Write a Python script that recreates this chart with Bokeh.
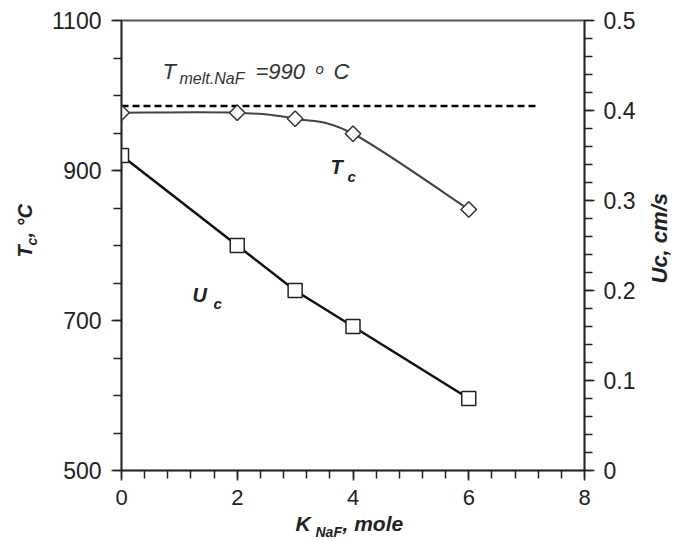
import math
from bokeh.plotting import figure
from bokeh.models import Range1d, LinearAxis, FixedTicker, Label, CustomJSTickFormatter
from bokeh.embed import file_html
from bokeh.resources import INLINE

# ---- data ----
k_naf = [0, 2, 3, 4, 6]
t_c = [977, 977, 969, 949, 848]          # Tc, degC (left axis)
u_c = [0.35, 0.25, 0.20, 0.16, 0.08]     # Uc, cm/s (right axis)
melt_k = [0, 7.2]
melt_t = [986, 986]

x_ticks = [0, 2, 4, 6, 8]
t_ticks = [500, 700, 900, 1100]
u_ticks = [0, 0.1, 0.2, 0.3, 0.4, 0.5]

FW, FH = 463, 450
BL, BT = 121, 20
p = figure(frame_width=FW, frame_height=FH,
           x_range=Range1d(0, 8), y_range=Range1d(500, 1100),
           output_backend="svg", toolbar_location=None,
           min_border_left=BL, min_border_right=88,
           min_border_top=BT, min_border_bottom=70)
p.extra_y_ranges = {"u": Range1d(0, 0.5)}
p.grid.visible = False
p.outline_line_color = "#555555"
p.outline_line_width = 2
p.background_fill_color = "white"
p.border_fill_color = "white"

FONT = "Liberation Sans"


def style_axis(ax):
    ax.axis_line_color = "#222222"
    ax.axis_line_width = 1.5
    ax.major_tick_line_color = "#222222"
    ax.major_tick_line_width = 1.5
    ax.minor_tick_line_color = "#222222"
    ax.minor_tick_line_width = 1.5
    ax.major_tick_in = 0
    ax.minor_tick_in = 0
    ax.major_tick_out = 10
    ax.minor_tick_out = 8
    ax.major_label_text_font = FONT
    ax.major_label_text_font_size = "23px"
    ax.major_label_text_color = "#222222"


xa = p.xaxis[0]
xa.ticker = FixedTicker(ticks=x_ticks, minor_ticks=[0.4 * i for i in range(21)])
style_axis(xa)
xa.major_label_text_font_size = "22px"
xa.major_label_standoff = 9

ya = p.yaxis[0]
ya.ticker = FixedTicker(ticks=t_ticks, minor_ticks=list(range(500, 1101, 50)))
style_axis(ya)
ya.major_label_standoff = 10

ra = LinearAxis(y_range_name="u",
                ticker=FixedTicker(ticks=u_ticks, minor_ticks=[0.02 * i for i in range(26)]),
                formatter=CustomJSTickFormatter(code="return (Math.round(tick*10)/10).toString();"))
style_axis(ra)
ra.major_label_standoff = 9
p.add_layout(ra, "right")

# melting temperature line
p.line(melt_k, melt_t, line_color="black", line_width=2.5, line_dash="7 4")

# smoothed Tc curve (Excel-like bezier through the data points)
n = len(k_naf)
bx0, by0, bx1, by1, c0x, c0y, c1x, c1y = ([] for _ in range(8))
for i in range(n - 1):
    im = max(i - 1, 0)
    ip = min(i + 2, n - 1)
    bx0.append(k_naf[i]); by0.append(t_c[i])
    bx1.append(k_naf[i + 1]); by1.append(t_c[i + 1])
    c0x.append(k_naf[i] + (k_naf[i + 1] - k_naf[im]) / 6)
    c0y.append(t_c[i] + (t_c[i + 1] - t_c[im]) / 6)
    c1x.append(k_naf[i + 1] - (k_naf[ip] - k_naf[i]) / 6)
    c1y.append(t_c[i + 1] - (t_c[ip] - t_c[i]) / 6)
p.bezier(x0=bx0, y0=by0, x1=bx1, y1=by1, cx0=c0x, cy0=c0y, cx1=c1x, cy1=c1y,
         line_color="#444444", line_width=2)
p.scatter(k_naf, t_c, marker="square", angle=math.pi / 4, size=11,
          fill_color="white", line_color="#333333", line_width=1.5)

# Uc line
p.line(k_naf, u_c, y_range_name="u", line_color="#111111", line_width=2.5)
p.scatter(k_naf, u_c, y_range_name="u", marker="square", size=14,
          fill_color="white", line_color="#222222", line_width=1.5)


# ---- text annotations (page pixels converted to data) ----
def dx(px):
    return (px - BL) / (FW / 8)


def dy(py):
    return 1100 - (py - BT) / (FH / 600)


def mk(px, py, text, size, style="italic", color="#333333", angle=0):
    # (px, py) is the wanted baseline start; correct the renderer's baseline shift
    off = 0.42 * size
    if angle == 0:
        py -= off
    else:
        px -= off
    return Label(x=dx(px), y=dy(py), text=text, text_font=FONT,
                 text_font_size=f"{size}px", text_font_style=style,
                 text_color=color, text_align="left", angle=angle,
                 text_baseline="alphabetic")


def lab(*a, **k):
    p.add_layout(mk(*a, **k))


def side(*a, **k):
    # labels outside the frame live in the right side panel (not clipped)
    p.add_layout(mk(*a, **k), "right")


# T melt.NaF = 990 oC
lab(162, 80, "T", 22)
lab(179, 85, "melt.NaF", 16)
lab(255, 80, "=990", 22)
lab(315, 74, "o", 15)
lab(333, 80, "C", 22)

# series labels
lab(330, 175, "T", 20, "bold italic", "#222222")
lab(347, 182, "c", 15, "bold italic", "#222222")
lab(192, 303, "U", 20, "bold italic", "#222222")
lab(213, 309, "c", 15, "bold italic", "#222222")

R90 = math.pi / 2
TC = "#222222"
# right axis title
side(668, 283, "Uc, cm/s", 22, "bold italic", TC, angle=R90)
# left axis title  T_c, oC
side(33, 257, "T", 20, "bold italic", TC, angle=R90)
side(37, 245, "c", 14, "bold italic", TC, angle=R90)
side(33, 237, ", \u00b0C", 20, "bold italic", TC, angle=R90)
# bottom axis title  K_NaF, mole
side(295, 532, "K", 21, "bold italic", TC)
side(315, 537, "NaF", 14, "bold italic", TC)
side(342, 532, ", mole", 21, "bold italic", TC)

open("out.html", "w").write(file_html(p, INLINE))
